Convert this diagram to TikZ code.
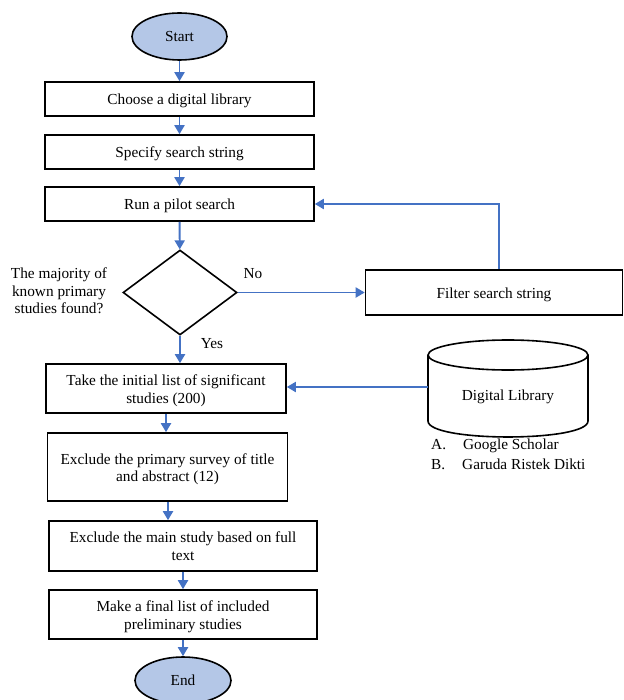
\documentclass[tikz,border=0pt]{standalone}
\usepackage{fontspec}
\setmainfont{Liberation Serif}
\usetikzlibrary{shapes.geometric,arrows.meta}

\definecolor{flowblue}{RGB}{68,114,196}
\definecolor{termfill}{RGB}{180,199,231}

\newcommand{\topstrut}{\rule{0pt}{15pt}}

\tikzset{
    procbox/.style={draw=black,line width=1.6pt,rectangle,align=center,inner sep=2pt},
    termnode/.style={draw=black,line width=1.6pt,ellipse,fill=termfill,inner sep=0pt},
    decnode/.style={draw=black,line width=1.6pt,diamond,inner sep=0pt},
    flow/.style={draw=flowblue,line width=1.9pt,-{Triangle[width=10pt,length=9pt]}},
    plain/.style={align=center,inner sep=0pt}
}

\begin{document}
\begin{tikzpicture}[x=1pt,y=-1pt,font=\fontsize{15.3}{17.7}\selectfont]
    \useasboundingbox (0,0) rectangle (623,700);

    % main column
    \node[termnode,minimum width=95pt,minimum height=47pt] (start) at (179.5,36.5) {Start};
    \node[procbox,minimum width=269pt,minimum height=34pt] (choose) at (179.5,99) {\topstrut Choose a digital library};
    \node[procbox,minimum width=269pt,minimum height=34pt] (specify) at (179.5,152) {\topstrut Specify search string};
    \node[procbox,minimum width=269pt,minimum height=34pt] (pilot) at (179.5,204) {\topstrut Run a pilot search};
    \node[decnode,minimum width=114pt,minimum height=85pt] (found) at (180,292.5) {};
    \node[plain] (question) at (59,291) {The majority of\\known primary\\studies found?};
    \node[procbox,minimum width=257pt,minimum height=45pt] (filter) at (494,292.5) {\topstrut Filter search string};
    \node[procbox,minimum width=240pt,minimum height=49pt] (initial) at (166,388.5) {\topstrut Take the initial list of significant\\studies (200)};
    \node[procbox,minimum width=240pt,minimum height=68pt] (survey) at (167.5,467) {\topstrut Exclude the primary survey of title\\and abstract (12)};
    \node[procbox,minimum width=268pt,minimum height=50pt] (fulltext) at (183,546) {Exclude the main study based on full\\text};
    \node[procbox,minimum width=268pt,minimum height=49pt] (final) at (183,614.5) {\topstrut Make a final list of included\\preliminary studies};
    \node[termnode,minimum width=96pt,minimum height=47pt] (end) at (183,680.5) {End};

    % digital library
    \draw[line width=1.6pt] (428,355) -- (428,421);
    \draw[line width=1.6pt] (588,355) -- (588,421);
    \draw[line width=1.6pt] (428,421) .. controls (428,442.3) and (588,442.3) .. (588,421);
    \draw[line width=1.6pt] (508,355) ellipse[x radius=80pt,y radius=15pt];
    \node[plain] (lib) at (508,397) {Digital Library};
    \coordinate (libw) at (428,387);
    \node[plain,anchor=west] (gs) at (431,446) {A.\hspace{17pt}Google Scholar};
    \node[plain,anchor=west] (gr) at (431,464) {B.\hspace{17pt}Garuda Ristek Dikti};

    % connectors
    \draw[flow] (start) -- (choose);
    \draw[flow] (choose) -- (specify);
    \draw[flow] (specify) -- (pilot);
    \draw[flow] (pilot) -- (found);
    \draw[flow] (found.south) -- (initial.north -| found.south);
    \draw[flow] (found.east) -- (filter.west) node[pos=0.12,above=10pt,black] (no) {No};
    \draw[flow] (filter.north -| 499,0) |- (pilot.east);
    \draw[flow] (libw) -- (initial.east |- libw);
    \draw[flow] (initial.south -| 166,0) -- (survey.north -| 166,0);
    \draw[flow] (survey.south -| 168,0) -- (fulltext.north -| 168,0);
    \draw[flow] (fulltext) -- (final);
    \draw[flow] (final) -- (end);
    \node[plain] (yes) at (212,344) {Yes};
\end{tikzpicture}
\end{document}
